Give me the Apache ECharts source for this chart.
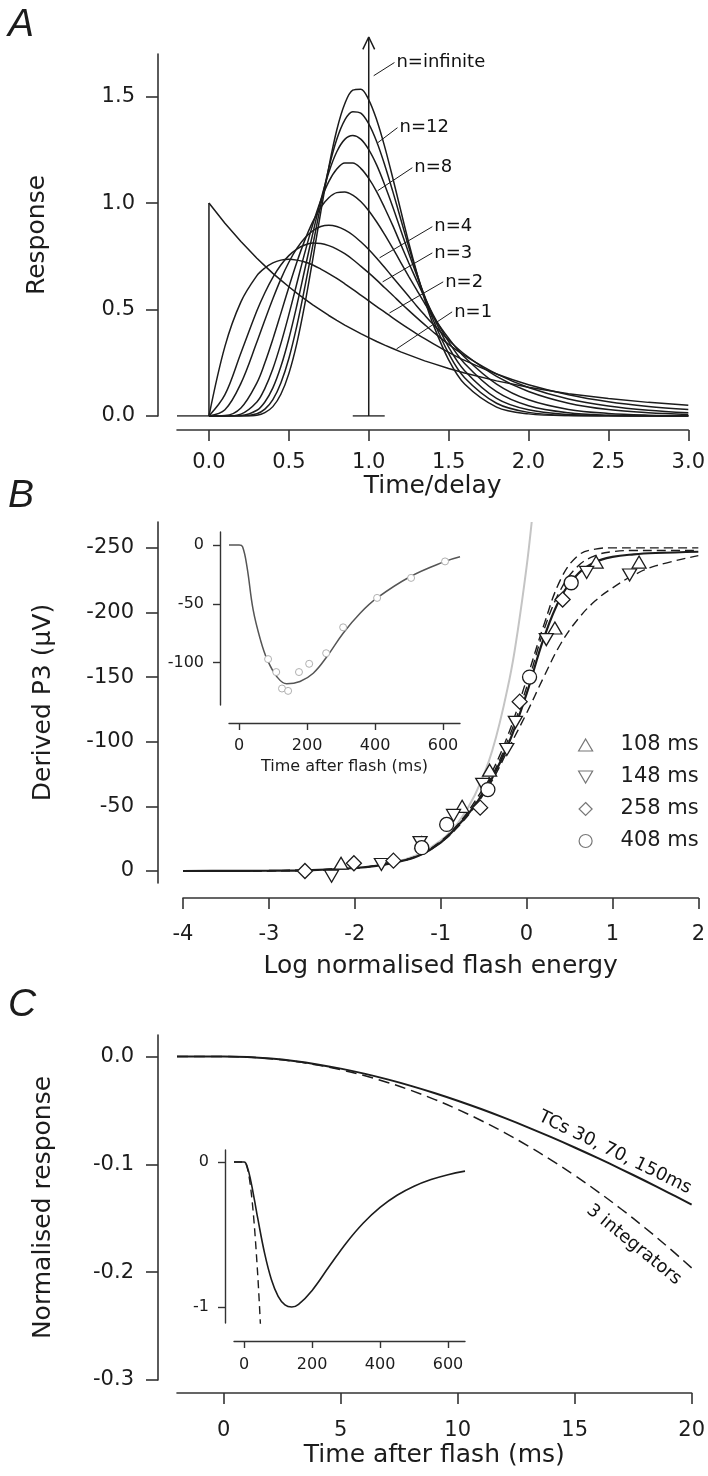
<!DOCTYPE html>
<html>
<head>
<meta charset="utf-8">
<script src="https://cdn.jsdelivr.net/npm/echarts@6/dist/echarts.min.js"></script>
<style>
html,body{margin:0;padding:0;background:#ffffff;}
#chart{width:708px;height:1476px;}
</style>
</head>
<body>
<div id="chart"></div>
<script>
// ================= DATA =================
// ---- Panel A: impulse responses of n-stage cascades (time / delay) ----
const timeA = [0, 0.1, 0.2, 0.3, 0.35, 0.4, 0.45, 0.5, 0.55, 0.6, 0.65, 0.7, 0.75, 0.8, 0.85, 0.9, 0.95, 1.0, 1.05, 1.1, 1.15, 1.2, 1.25, 1.3, 1.35, 1.4, 1.5, 1.6, 1.8, 2.0, 2.25, 2.5, 2.75, 3.0];
const respN1 = [1.000, 0.905, 0.819, 0.741, 0.705, 0.670, 0.638, 0.607, 0.577, 0.549, 0.522, 0.497, 0.472, 0.449, 0.427, 0.407, 0.387, 0.368, 0.350, 0.333, 0.317, 0.301, 0.287, 0.273, 0.259, 0.247, 0.223, 0.202, 0.165, 0.135, 0.105, 0.082, 0.064, 0.050];
const respN2 = [0, 0.327, 0.536, 0.659, 0.695, 0.719, 0.732, 0.736, 0.732, 0.723, 0.709, 0.690, 0.669, 0.646, 0.621, 0.595, 0.568, 0.541, 0.514, 0.488, 0.461, 0.435, 0.410, 0.386, 0.363, 0.341, 0.299, 0.261, 0.197, 0.147, 0.100, 0.067, 0.045, 0.030];
const respN3 = [0, 0.100, 0.296, 0.494, 0.579, 0.651, 0.709, 0.753, 0.784, 0.803, 0.812, 0.810, 0.800, 0.784, 0.762, 0.735, 0.704, 0.672, 0.638, 0.602, 0.567, 0.531, 0.496, 0.462, 0.429, 0.397, 0.337, 0.284, 0.198, 0.134, 0.080, 0.047, 0.027, 0.015];
const respN4 = [0, 0.029, 0.153, 0.347, 0.451, 0.551, 0.643, 0.722, 0.787, 0.836, 0.870, 0.890, 0.896, 0.890, 0.874, 0.850, 0.818, 0.782, 0.741, 0.697, 0.652, 0.607, 0.562, 0.517, 0.474, 0.433, 0.357, 0.290, 0.186, 0.115, 0.060, 0.030, 0.015, 0.007];
const respN6 = [0, 0.002, 0.038, 0.156, 0.250, 0.361, 0.482, 0.605, 0.722, 0.826, 0.913, 0.980, 1.025, 1.049, 1.052, 1.037, 1.007, 0.964, 0.911, 0.852, 0.788, 0.722, 0.656, 0.592, 0.529, 0.470, 0.365, 0.276, 0.150, 0.076, 0.031, 0.012, 0.004, 0.001];
const respN8 = [0, 0, 0.009, 0.066, 0.130, 0.222, 0.340, 0.476, 0.622, 0.767, 0.900, 1.013, 1.101, 1.160, 1.188, 1.188, 1.163, 1.116, 1.053, 0.977, 0.895, 0.807, 0.720, 0.636, 0.555, 0.480, 0.349, 0.247, 0.114, 0.048, 0.015, 0.004, 0.001, 0];
const respN10 = [0, 0, 0.002, 0.027, 0.066, 0.132, 0.232, 0.363, 0.519, 0.689, 0.858, 1.014, 1.144, 1.241, 1.299, 1.317, 1.300, 1.251, 1.178, 1.085, 0.983, 0.874, 0.765, 0.661, 0.563, 0.474, 0.324, 0.213, 0.083, 0.029, 0.007, 0.002, 0, 0];
const respN12 = [0, 0, 0, 0.011, 0.032, 0.077, 0.155, 0.270, 0.423, 0.605, 0.801, 0.993, 1.164, 1.300, 1.390, 1.429, 1.422, 1.372, 1.288, 1.179, 1.056, 0.925, 0.795, 0.672, 0.559, 0.457, 0.294, 0.180, 0.060, 0.017, 0.003, 0.001, 0, 0];
const respN14 = [0, 0, 0, 0.004, 0.016, 0.044, 0.102, 0.199, 0.341, 0.525, 0.737, 0.959, 1.168, 1.343, 1.466, 1.530, 1.535, 1.485, 1.390, 1.264, 1.119, 0.966, 0.815, 0.675, 0.547, 0.436, 0.264, 0.150, 0.042, 0.010, 0.001, 0, 0, 0];
const baselineTimeA = [-0.2, 0];
const deltaTime = 1.0;        // n = infinite: impulse at t = delay
const deltaBase = [0.9, 1.1]; // foot of the impulse
const deltaTop = 1.78;
const labelsA = ['n=infinite', 'n=12', 'n=8', 'n=4', 'n=3', 'n=2', 'n=1'];
const leaderFromA = [[1.031, 1.598], [1.056, 1.283], [1.056, 1.058], [1.068, 0.743], [1.087, 0.630], [1.130, 0.484], [1.174, 0.315]];
const leaderToA = [[1.161, 1.660], [1.180, 1.354], [1.273, 1.166], [1.398, 0.889], [1.398, 0.766], [1.466, 0.630], [1.522, 0.489]];
const ticksAx = [0, 0.5, 1, 1.5, 2, 2.5, 3];
const ticksAy = [0, 0.5, 1, 1.5];

// ---- Panel B: derived P3 vs log normalised flash energy ----
const energyFit = [-4, -3.5, -3, -2.5, -2, -1.75, -1.5, -1.25, -1, -0.8, -0.6, -0.4, -0.2, 0, 0.2, 0.4, 0.6, 0.8, 1, 1.25, 1.5, 2];
const fitSolid = [0, -0.1, -0.2, -0.7, -2.3, -4, -7, -12, -22, -35, -51, -72, -100, -137, -180, -212, -230, -239, -243, -245, -246, -247];
const fitDashLeft = [0, -0.1, -0.2, -0.7, -2.3, -4, -7, -12.5, -23, -36, -54, -77, -108, -148, -190, -226, -244, -249, -250, -250, -250, -250];
const fitDashMid = [0, -0.1, -0.2, -0.7, -2.3, -4, -7, -12.3, -22.5, -35.5, -52, -74, -104, -142, -186, -218, -236, -244, -247, -248, -248, -248];
const fitDashRight = [0, -0.1, -0.2, -0.7, -2.3, -4, -7, -12, -22, -34, -50, -70, -96, -122, -150, -176, -195, -209, -219, -229, -236, -244];
const energyLinear = [-1.5, -1.25, -1, -0.8, -0.6, -0.4, -0.2, -0.1, 0, 0.06];
const respLinear = [-7.4, -13.2, -23.5, -37, -59, -93, -148, -187, -235, -270];
const energy108 = [-2.16, -1.22, -0.75, -0.43, 0.33, 0.81, 1.31];
const p3_108 = [-6, -22, -50, -78, -188, -239, -239];
const energy148 = [-2.27, -1.69, -1.24, -0.85, -0.51, -0.23, -0.13, 0.23, 0.70, 1.20];
const p3_148 = [4, -5, -22, -43, -67, -94, -115, -179, -231, -229];
const energy258 = [-2.58, -2.01, -1.55, -0.54, -0.08, 0.42];
const p3_258 = [0, -6, -8, -49, -131, -210];
const energy408 = [-1.22, -0.93, -0.45, 0.035, 0.52];
const p3_408 = [-18, -36, -63, -150, -223];
const latencyNames = ['108 ms', '148 ms', '258 ms', '408 ms'];
const ticksBx = [-4, -3, -2, -1, 0, 1, 2];
const ticksBy = [-250, -200, -150, -100, -50, 0];

// ---- Panel B inset: P3 time course ----
const insetTimeB = [-30, 0, 10, 23, 41, 62, 82, 111, 140, 179, 218, 258, 306, 356, 406, 503, 606, 650];
const insetFitB = [0, 0, -1.5, -18.6, -55, -80, -97, -112, -118, -116, -109, -95, -75, -58, -45, -27, -14, -10];
const insetObsTimeB = [85, 109, 126, 144, 176, 206, 256, 306, 406, 506, 606];
const insetObsB = [-97, -108, -122, -124, -108, -101, -92, -70, -45, -28, -14];
const ticksInsetX = [0, 200, 400, 600];
const ticksInsetBy = [-100, -50, 0];

// ---- Panel C: early normalised response ----
const timeC = [-2, 0, 1, 2, 3, 4, 5, 6, 7, 8, 9, 10, 11, 12, 13, 14, 15, 16, 17, 18, 19, 20];
const respTCs = [0, 0, -0.00048, -0.00189, -0.00418, -0.00729, -0.01120, -0.01583, -0.02117, -0.02716, -0.03377, -0.04095, -0.04868, -0.05692, -0.06562, -0.07478, -0.08434, -0.09428, -0.10458, -0.11520, -0.12613, -0.13733];
const respIntegrators = [0, 0, -0.00049, -0.00196, -0.00441, -0.00784, -0.01225, -0.01764, -0.02401, -0.03136, -0.03969, -0.04900, -0.05929, -0.07056, -0.08281, -0.09604, -0.11025, -0.12544, -0.14161, -0.15876, -0.17689, -0.19600];
const ticksCx = [0, 5, 10, 15, 20];
const ticksCy = [-0.3, -0.2, -0.1, 0];

// ---- Panel C inset ----
const insetTimeC = [-30, 0, 10, 20, 30, 40, 60, 80, 100, 120, 140, 160, 200, 250, 300, 350, 400, 450, 500, 550, 600, 650];
const insetTCsC = [0, 0, -0.0409, -0.1372, -0.2595, -0.3892, -0.6280, -0.8093, -0.9259, -0.9855, -1.0, -0.9815, -0.8851, -0.7209, -0.5593, -0.4218, -0.3126, -0.2290, -0.1666, -0.1205, -0.0870, -0.0626];
const insetIntTimeC = [-30, 0, 10, 20, 30, 40, 45, 50];
const insetIntC = [0, 0, -0.049, -0.196, -0.441, -0.784, -0.992, -1.225];
const ticksInsetCy = [-1, 0];

// ================= STYLE =================
const FONT = '"DejaVu Sans", "Liberation Sans", Arial, sans-serif';
const INK = '#1c1c1c';
const AXC = '#333333';
const zip = (xs, ys) => xs.map((x, i) => [x, ys[i]]);

function axis(kind, o) {
  return {
    type: 'value', gridIndex: o.grid, min: o.min, max: o.max, inverse: !!o.inverse,
    position: kind === 'x' ? 'bottom' : 'left', offset: o.offset,
    axisLine: { show: true, onZero: false, lineStyle: { color: AXC, width: o.lw || 1.6 } },
    axisTick: { show: true, length: o.tick, customValues: o.ticks, lineStyle: { color: AXC, width: o.lw || 1.6 } },
    axisLabel: { show: true, customValues: o.ticks, formatter: o.fmt, margin: o.margin, color: INK, fontSize: o.fs, fontFamily: FONT },
    splitLine: { show: false },
    name: o.name || '', nameLocation: 'middle', nameGap: o.nameGap || 0,
    nameTextStyle: { fontSize: o.nfs || 25, color: INK, fontFamily: FONT }
  };
}
const f1 = v => v.toFixed(1);
const f0 = v => String(v);

const lineS = (xi, yi, data, opt) => Object.assign({
  type: 'line', xAxisIndex: xi, yAxisIndex: yi, data: data, showSymbol: false, symbol: 'none',
  silent: true, animation: false, lineStyle: { color: INK, width: 1.5 }, z: 3
}, opt || {});

const markerStyle = { color: '#ffffff', borderColor: '#1c1c1c', borderWidth: 1.3, opacity: 1 };
const TRI_UP = 'path://M7,0L14,12L0,12Z';
const TRI_DOWN = 'path://M0,0L14,0L7,12Z';
const DIAMOND = 'path://M8,0L16,8L8,16L0,8Z';
const labelBase = { show: true, color: '#111111', fontFamily: FONT, textBorderWidth: 0, textShadowBlur: 0 };

const series = [];
// Panel A
series.push(lineS(0, 0, zip(baselineTimeA, [0, 0])));
series.push(lineS(0, 0, [[0, 0], [0, respN1[0]]]));
series.push(lineS(0, 0, zip(timeA, respN1)));
[respN2, respN3, respN4, respN6, respN8, respN10, respN12, respN14].forEach(r => {
  series.push(lineS(0, 0, zip(timeA, r), { smooth: 0.35 }));
});
series.push(lineS(0, 0, [[deltaTime, 0], [deltaTime, deltaTop]], { clip: false }));
series.push(lineS(0, 0, [[deltaBase[0], 0], [deltaBase[1], 0]]));
series.push(lineS(0, 0, [[deltaTime - 0.037, deltaTop - 0.058], [deltaTime, deltaTop], [deltaTime + 0.037, deltaTop - 0.058]], { clip: false }));
leaderFromA.forEach((p, i) => {
  series.push(lineS(0, 0, [p, leaderToA[i]], { clip: false, lineStyle: { color: INK, width: 1 } }));
});
series.push({
  type: 'scatter', xAxisIndex: 0, yAxisIndex: 0, silent: true, animation: false, clip: false,
  symbolSize: 0, itemStyle: { opacity: 1 },
  data: labelsA.map((n, i) => ({ name: n, value: leaderToA[i] })),
  label: Object.assign({}, labelBase, { position: 'right', distance: 2, formatter: '{b}', fontSize: 18 })
});

// Panel B main
series.push(lineS(1, 1, zip(energyLinear, respLinear), { smooth: 0.4, lineStyle: { color: '#c4c4c4', width: 2 }, z: 2 }));
series.push(lineS(1, 1, zip(energyFit, fitDashLeft), { smooth: 0.4, lineStyle: { color: INK, width: 1.4, type: [9, 5] } }));
series.push(lineS(1, 1, zip(energyFit, fitDashMid), { smooth: 0.4, lineStyle: { color: INK, width: 1.4, type: [9, 5] } }));
series.push(lineS(1, 1, zip(energyFit, fitDashRight), { smooth: 0.4, lineStyle: { color: INK, width: 1.4, type: [9, 5] } }));
series.push(lineS(1, 1, zip(energyFit, fitSolid), { smooth: 0.4, lineStyle: { color: INK, width: 2.2 }, z: 4 }));
const markerSets = [
  [latencyNames[0], energy108, p3_108, TRI_UP, [14, 12]],
  [latencyNames[1], energy148, p3_148, TRI_DOWN, [14, 12]],
  [latencyNames[2], energy258, p3_258, DIAMOND, [15, 15]],
  [latencyNames[3], energy408, p3_408, 'circle', 14]
];
markerSets.forEach(m => {
  series.push({
    type: 'scatter', name: m[0], xAxisIndex: 1, yAxisIndex: 1, silent: true, animation: false,
    data: zip(m[1], m[2]), symbol: m[3], symbolSize: m[4], itemStyle: markerStyle, z: 5
  });
});

// Panel B inset
series.push(lineS(2, 2, zip(insetTimeB, insetFitB), { smooth: 0.4, lineStyle: { color: '#555555', width: 1.5 } }));
series.push({
  type: 'scatter', xAxisIndex: 2, yAxisIndex: 2, silent: true, animation: false,
  data: zip(insetObsTimeB, insetObsB), symbol: 'circle', symbolSize: 7,
  itemStyle: { color: '#ffffff', borderColor: '#b0b0b0', borderWidth: 1, opacity: 1 }, z: 5
});

// Panel C main
series.push(lineS(3, 3, zip(timeC, respIntegrators), { smooth: 0.4, lineStyle: { color: INK, width: 1.5, type: [11, 6] } }));
series.push(lineS(3, 3, zip(timeC, respTCs), { smooth: 0.4, lineStyle: { color: INK, width: 2 } }));
series.push({
  type: 'scatter', xAxisIndex: 3, yAxisIndex: 3, silent: true, animation: false, clip: false, symbolSize: 0,
  itemStyle: { opacity: 1 },
  data: [
    { name: 'TCs 30, 70, 150ms', value: [16.72, -0.0891], label: { rotate: -26 } },
    { name: '3 integrators', value: [17.53, -0.1746], label: { rotate: -39 } }
  ],
  label: Object.assign({}, labelBase, { position: 'inside', formatter: '{b}', fontSize: 18 })
});

// Panel C inset
series.push(lineS(4, 4, zip(insetIntTimeC, insetIntC), { smooth: 0.3, lineStyle: { color: INK, width: 1.4, type: [8, 5] } }));
series.push(lineS(4, 4, zip(insetTimeC, insetTCsC), { smooth: 0.4, lineStyle: { color: INK, width: 1.6 } }));

const option = {
  backgroundColor: '#ffffff',
  animation: false,
  textStyle: { fontFamily: FONT },
  grid: [
    { left: 177, top: 54, width: 518, height: 362 },
    { left: 183, top: 522, width: 517, height: 361 },
    { left: 229, top: 532, width: 231, height: 173 },
    { left: 177, top: 1035, width: 517, height: 345 },
    { left: 234, top: 1150, width: 231, height: 173 }
  ],
  xAxis: [
    axis('x', { grid: 0, min: -0.2, max: 3, offset: 14, tick: 11, ticks: ticksAx, fmt: f1, margin: 22, fs: 21, name: 'Time/delay', nameGap: 44 }),
    axis('x', { grid: 1, min: -4, max: 2, offset: 15, tick: 11, ticks: ticksBx, fmt: f0, margin: 26, fs: 21, name: 'Log normalised flash energy', nameGap: 56 }),
    axis('x', { grid: 2, min: -30, max: 650, offset: 18, tick: 7, ticks: ticksInsetX, fmt: f0, margin: 15, fs: 16, name: 'Time after flash (ms)', nameGap: 36, nfs: 16, lw: 1.4 }),
    axis('x', { grid: 3, min: -2, max: 20, offset: 13, tick: 11, ticks: ticksCx, fmt: f0, margin: 27, fs: 21, name: 'Time after flash (ms)', nameGap: 50 }),
    axis('x', { grid: 4, min: -30, max: 650, offset: 18, tick: 7, ticks: ticksInsetX, fmt: f0, margin: 16, fs: 16, lw: 1.4 })
  ],
  yAxis: [
    axis('y', { grid: 0, min: 0, max: 1.7, offset: 19, tick: 12, ticks: ticksAy, fmt: f1, margin: 23, fs: 21, name: 'Response', nameGap: 108 }),
    axis('y', { grid: 1, min: -270, max: 9.3, inverse: true, offset: 25, tick: 12, ticks: ticksBy, fmt: f0, margin: 24, fs: 21, name: 'Derived P3 (\u00b5V)', nameGap: 102 }),
    axis('y', { grid: 2, min: -136, max: 11, offset: 9, tick: 7, ticks: ticksInsetBy, fmt: f0, margin: 16, fs: 16, lw: 1.4 }),
    axis('y', { grid: 3, min: -0.3, max: 0.02, offset: 19, tick: 12, ticks: ticksCy, fmt: f1, margin: 24, fs: 21, name: 'Normalised response', nameGap: 102 }),
    axis('y', { grid: 4, min: -1.11, max: 0.083, offset: 9, tick: 7, ticks: ticksInsetCy, fmt: f0, margin: 16, fs: 16, lw: 1.4 })
  ],
  legend: {
    data: [
      { name: latencyNames[0], icon: TRI_UP },
      { name: latencyNames[1], icon: TRI_DOWN },
      { name: latencyNames[2], icon: DIAMOND },
      { name: latencyNames[3], icon: 'circle' }
    ],
    orient: 'vertical', left: 573, top: 729, itemWidth: 14, itemHeight: 13, itemGap: 10,
    selectedMode: false,
    itemStyle: { color: '#ffffff', borderColor: '#777777', borderWidth: 1.2 },
    textStyle: { fontSize: 21, color: INK, fontFamily: FONT, lineHeight: 22, padding: [0, 0, 0, 23] }
  },
  graphic: [
    { type: 'text', left: 8, top: 6, style: { text: 'A', font: 'italic 39px "Liberation Sans", Arial, sans-serif', fill: INK } },
    { type: 'text', left: 8, top: 477, style: { text: 'B', font: 'italic 39px "Liberation Sans", Arial, sans-serif', fill: INK } },
    { type: 'text', left: 8, top: 986, style: { text: 'C', font: 'italic 39px "Liberation Sans", Arial, sans-serif', fill: INK } }
  ],
  series: series
};

const chart = echarts.init(document.getElementById('chart'), null, { renderer: 'canvas', width: 708, height: 1476 });
chart.setOption(option);
</script>
</body>
</html>
